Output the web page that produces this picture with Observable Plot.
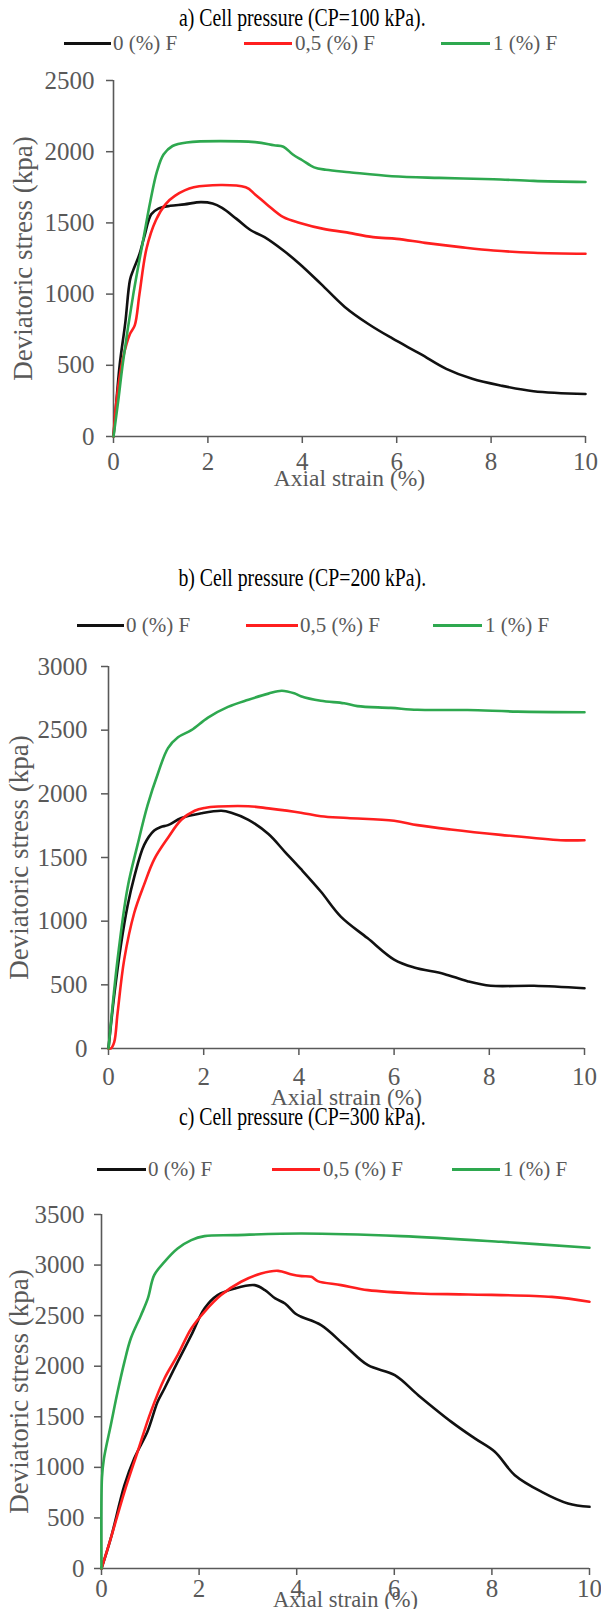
<!DOCTYPE html>
<html><head><meta charset="utf-8">
<script src="https://cdn.jsdelivr.net/npm/d3@7"></script>
<script src="https://cdn.jsdelivr.net/npm/@observablehq/plot@0.6"></script>
<style>
body{margin:0;background:#fff;width:601px;height:1609px;position:relative;overflow:hidden;font-family:"Liberation Serif",serif}
.title{position:absolute;left:0;width:601px;text-align:center;font-size:26px;color:#000;line-height:26px;transform:scaleX(0.76);transform-origin:308px 50%}
.leg{position:absolute;font-size:21px;color:#595959;line-height:26px;white-space:nowrap;height:26px}
.sw{position:absolute;height:3px}
</style></head><body>
<script>
const seriesNames = ["0 (%) F", "0,5 (%) F", "1 (%) F"];
const seriesColors = ["#111111", "#ff1f1f", "#2ea84f"];
const panelTitles = ["a) Cell pressure (CP=100 kPa).", "b) Cell pressure (CP=200 kPa).", "c) Cell pressure (CP=300 kPa)."];
const xTicks = [0, 2, 4, 6, 8, 10];
const yTicksA = [0, 500, 1000, 1500, 2000, 2500];
const yTicksB = [0, 500, 1000, 1500, 2000, 2500, 3000];
const yTicksC = [0, 500, 1000, 1500, 2000, 2500, 3000, 3500];
const xLabel = "Axial strain (%)";
const yLabel = "Deviatoric stress (kpa)";

// Panel a (CP=100 kPa): [strain %, stress kPa]
const aBlack = [[0,0],[0.05,200],[0.13,500],[0.25,800],[0.35,1100],[0.42,1170],[0.55,1280],[0.65,1400],[0.8,1560],[0.95,1600],[1.2,1620],[1.5,1630],[1.85,1646],[2.1,1636],[2.3,1605],[2.6,1530],[2.9,1450],[3.2,1400],[3.6,1306],[3.95,1210],[4.4,1070],[4.9,910],[5.4,790],[5.9,690],[6.5,580],[7.05,475],[7.6,405],[8.2,358],[8.9,318],[10,298]];
const aRed = [[0,0],[0.02,100],[0.1,350],[0.2,550],[0.35,721],[0.45,780],[0.55,1000],[0.7,1320],[0.9,1520],[1.1,1630],[1.3,1690],[1.7,1750],[2.8,1750],[3.0,1700],[3.25,1630],[3.6,1540],[3.95,1500],[4.45,1458],[4.9,1435],[5.5,1400],[6.0,1388],[6.6,1360],[7.35,1330],[8.05,1306],[8.9,1290],[10,1283]];
const aGreen = [[0,0],[0.1,250],[0.2,520],[0.42,1000],[0.64,1400],[0.78,1650],[0.92,1860],[1.06,1980],[1.25,2040],[1.55,2065],[3.0,2067],[3.4,2045],[3.6,2035],[3.8,1980],[4.0,1940],[4.25,1890],[4.5,1873],[5.0,1856],[5.9,1828],[6.9,1816],[8.05,1807],[8.9,1795],[10,1787]];

// Panel b (CP=200 kPa)
const bBlack = [[0,0],[0.12,417],[0.26,811],[0.4,1120],[0.54,1346],[0.75,1599],[0.96,1712],[1.1,1740],[1.25,1754],[1.53,1810],[1.95,1847],[2.37,1867],[2.58,1852],[2.94,1796],[3.36,1684],[3.71,1543],[4.04,1410],[4.46,1233],[4.88,1036],[5.44,867],[6.0,698],[6.42,636],[7.05,586],[7.54,529],[8.03,493],[8.94,493],[10,473]];
const bRed = [[0,0],[0.05,0],[0.12,50],[0.19,276],[0.33,698],[0.54,1064],[0.75,1289],[0.96,1486],[1.25,1655],[1.53,1796],[1.81,1867],[2.02,1889],[2.3,1900],[2.94,1903],[3.36,1886],[4.04,1852],[4.46,1824],[5.02,1810],[6.0,1788],[6.49,1754],[7.19,1720],[8.24,1678],[9.5,1636],[10,1636]];
const bGreen = [[0,0],[0.19,698],[0.4,1261],[0.61,1599],[0.82,1909],[1.04,2162],[1.25,2359],[1.46,2444],[1.74,2500],[2.09,2599],[2.51,2683],[2.94,2739],[3.36,2787],[3.64,2810],[3.92,2787],[4.04,2767],[4.46,2731],[4.95,2711],[5.23,2689],[5.93,2675],[6.49,2660],[7.54,2658],[8.59,2646],[10,2641]];

// Panel c (CP=300 kPa)
const cBlack = [[0,0],[0.19,297],[0.47,824],[0.67,1088],[0.94,1351],[1.15,1648],[1.29,1780],[1.56,2043],[1.84,2307],[2.11,2571],[2.38,2703],[2.73,2769],[3.14,2802],[3.35,2752],[3.56,2670],[3.76,2620],[3.97,2521],[4.09,2489],[4.5,2406],[4.98,2208],[5.46,2010],[6.01,1912],[6.49,1714],[7.17,1450],[7.65,1286],[8.06,1154],[8.47,923],[9.02,758],[9.56,643],[10,610]];
const cRed = [[0,0],[0.19,297],[0.47,758],[0.74,1154],[1.01,1549],[1.29,1879],[1.56,2109],[1.84,2373],[2.11,2538],[2.45,2703],[2.86,2835],[3.27,2917],[3.62,2943],[3.9,2907],[4.1,2891],[4.3,2884],[4.43,2841],[4.91,2802],[5.46,2752],[6.49,2719],[7.52,2709],[9.23,2686],[10,2637]];
const cGreen = [[0,0],[0.01,900],[0.05,1088],[0.19,1417],[0.33,1747],[0.47,2043],[0.6,2274],[0.81,2505],[0.95,2670],[1.08,2900],[1.29,3032],[1.56,3164],[1.84,3247],[2.11,3286],[2.73,3296],[4.1,3312],[6.14,3286],[8.19,3230],[10,3171]];

const panels = [
  {title: panelTitles[0], series: [aBlack, aRed, aGreen], ymax: 2500, yTicks: yTicksA,
   titleY: 5, legY: 30, leg: [[64,47,113],[244,48,295],[441,49,493]],
   top: 60, height: 450, mt: 20, mb: 74, ml: 113, mr: 16, xPad: 9, xLab: 49, xFont: 23.5, yPad: 12, yLab: 101},
  {title: panelTitles[1], series: [bBlack, bRed, bGreen], ymax: 3000, yTicks: yTicksB,
   titleY: 565, legY: 612, leg: [[77,47,126],[246,52,300],[433,49,485]],
   top: 640, height: 470, mt: 26, mb: 62, ml: 108, mr: 17, xPad: 12, xLab: 56, xFont: 23.5, yPad: 14, yLab: 100},
  {title: panelTitles[2], series: [cBlack, cRed, cGreen], ymax: 3500, yTicks: yTicksC,
   titleY: 1104, legY: 1156, leg: [[97,49,148],[272,48,323],[452,48,503]],
   top: 1190, height: 419, mt: 24, mb: 41, ml: 101, mr: 12, xPad: 4, xLab: 38, xFont: 22.5, yPad: 10, yLab: 93}
];

const axisColor = "#595959";
for (const p of panels) {
  const t = document.createElement("div");
  t.className = "title"; t.style.top = p.titleY + "px"; t.textContent = p.title;
  document.body.appendChild(t);
  p.leg.forEach(([lx, lw, tx], i) => {
    const sw = document.createElement("div");
    sw.className = "sw";
    sw.style.left = lx + "px"; sw.style.width = lw + "px";
    sw.style.top = (p.legY + 12) + "px"; sw.style.background = seriesColors[i];
    document.body.appendChild(sw);
    const lt = document.createElement("div");
    lt.className = "leg"; lt.style.left = tx + "px"; lt.style.top = p.legY + "px";
    lt.textContent = seriesNames[i];
    document.body.appendChild(lt);
  });
  const data = [];
  p.series.forEach((s, i) => s.forEach(([x, y]) => data.push({x, y, s: seriesNames[i]})));
  const svg = Plot.plot({
    width: 601, height: p.height,
    marginTop: p.mt, marginBottom: p.mb, marginLeft: p.ml, marginRight: p.mr,
    style: {fontFamily: "'Liberation Serif', serif", fontSize: "25px", color: axisColor, background: "transparent", overflow: "visible"},
    x: {domain: [0, 10]},
    y: {domain: [0, p.ymax]},
    color: {domain: seriesNames, range: seriesColors},
    marks: [
      Plot.axisX({ticks: xTicks, tickSize: 7, tickPadding: p.xPad, tickFormat: d => String(d), stroke: axisColor, strokeWidth: 1.5, fontSize: 25, label: null}),
      Plot.axisX({ticks: [], tickSize: 0, label: xLabel, labelAnchor: "center", labelArrow: "none", labelOffset: p.xLab, fontSize: p.xFont}),
      Plot.axisY({ticks: p.yTicks, tickSize: 7, tickPadding: p.yPad, tickFormat: d => String(d), stroke: axisColor, strokeWidth: 1.5, fontSize: 25, label: null}),
      Plot.axisY({ticks: [], tickSize: 0, label: yLabel, labelAnchor: "center", labelArrow: "none", labelOffset: p.yLab, fontSize: 27}),
      Plot.ruleY([0], {stroke: axisColor, strokeWidth: 1.6}),
      Plot.ruleX([0], {stroke: axisColor, strokeWidth: 1.6}),
      Plot.line(data, {x: "x", y: "y", z: "s", stroke: "s", strokeWidth: 2.6, curve: "catmull-rom"})
    ]
  });
  svg.style.position = "absolute";
  svg.style.top = p.top + "px";
  svg.style.left = "0px";
  document.body.appendChild(svg);
}
</script>
</body></html>
